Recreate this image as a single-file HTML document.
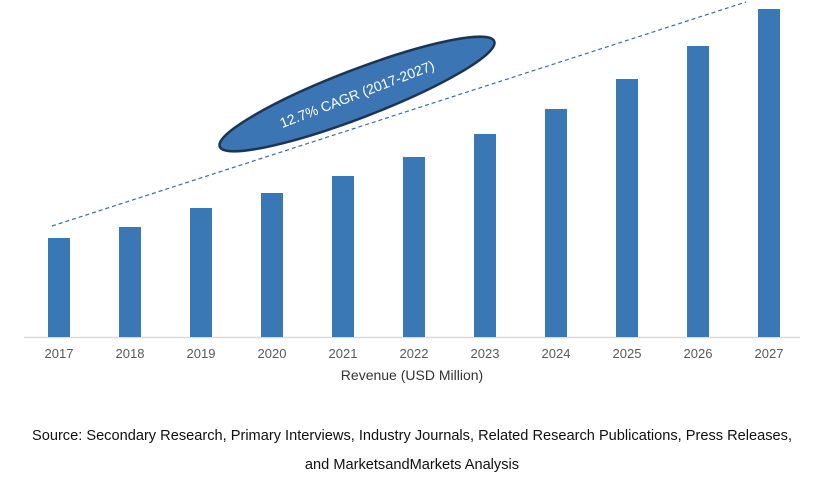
<!DOCTYPE html>
<html><head><meta charset="utf-8"><style>
body{margin:0;background:#fff;width:820px;height:475px;overflow:hidden;font-family:"Liberation Sans",sans-serif}
</style></head><body>
<svg id="chart" width="820" height="475" xmlns="http://www.w3.org/2000/svg">
<line x1="24" y1="337.5" x2="800" y2="337.5" stroke="#d9d9d9" stroke-width="1.5"/>
<g id="bars"></g>
<g id="labels"></g>
<line x1="52" y1="226" x2="746" y2="2" stroke="#3a6ea5" stroke-width="1.2" stroke-dasharray="4,3"/>
<g transform="translate(357,94) rotate(-21)">
<ellipse rx="147" ry="24" fill="#3b75b3" stroke="#1c3553" stroke-width="2.5"/>
<text x="0" y="5" text-anchor="middle" font-size="14" fill="#fff">12.7% CAGR (2017-2027)</text>
</g>
<text x="412" y="380" text-anchor="middle" font-size="14" fill="#333">Revenue (USD Million)</text>
<text x="412" y="440" text-anchor="middle" font-size="14.6" fill="#111">Source: Secondary Research, Primary Interviews, Industry Journals, Related Research Publications, Press Releases,</text>
<text x="412" y="469" text-anchor="middle" font-size="14.6" fill="#111">and MarketsandMarkets Analysis</text>
</svg>
<script>
const years=["2017","2018","2019","2020","2021","2022","2023","2024","2025","2026","2027"];
const values=[99,110,129,144,161,180,203,228,258,291,328];
const NS="http://www.w3.org/2000/svg";
const base=337,scale=1,x0=59,step=71,bw=22;
function xPos(i){return x0+i*step;}
function yPos(v){return base-v*scale;}
const gb=document.getElementById('bars'),gl=document.getElementById('labels');
years.forEach((y,i)=>{
 const r=document.createElementNS(NS,'rect');
 r.setAttribute('x',xPos(i)-bw/2);r.setAttribute('y',yPos(values[i]));
 r.setAttribute('width',bw);r.setAttribute('height',base-yPos(values[i]));
 r.setAttribute('fill','#3a78b5');
 
 
 gb.appendChild(r);
 const t=document.createElementNS(NS,'text');
 t.setAttribute('x',xPos(i));t.setAttribute('y',358);t.setAttribute('text-anchor','middle');
 t.setAttribute('font-size','13');t.setAttribute('fill','#595959');t.textContent=y;
 
 
 gl.appendChild(t);
});
</script>
</body></html>
